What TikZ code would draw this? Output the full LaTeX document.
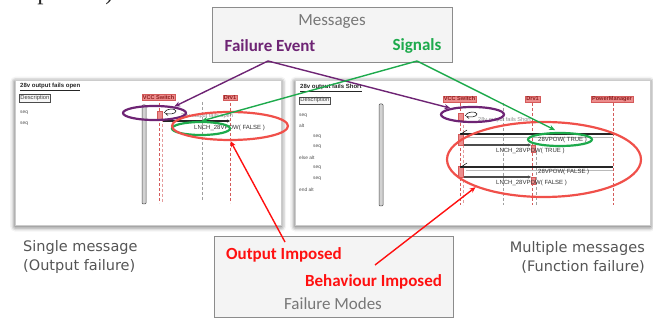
\documentclass[tikz,border=0pt]{standalone}
\usepackage{fontspec}
\setmainfont{Carlito}
\newfontfamily\shotfont{Liberation Sans}
\newfontfamily\capfont{DejaVu Sans}
\newfontfamily\pagefont{Liberation Serif}
\usetikzlibrary{shapes.geometric,arrows.meta,shadows,shadows.blur,calc}

\definecolor{fepurple}{HTML}{6E2474}
\definecolor{sigreen}{HTML}{1DAA4C}
\definecolor{fmred}{HTML}{FF1010}
\definecolor{ellred}{HTML}{F0504A}
\definecolor{boxgray}{HTML}{F4F4F4}
\definecolor{boxline}{HTML}{8C8C8C}
\definecolor{labgray}{HTML}{777777}
\definecolor{capgray}{HTML}{555555}
\definecolor{hdrfill}{HTML}{EC8C8C}
\definecolor{hdrtext}{HTML}{8E1F1F}
\definecolor{lifered}{HTML}{D45A5A}

\tikzset{
  panel/.style={draw=gray!40, fill=white, inner sep=0, anchor=north west,
    blur shadow={shadow blur radius=5pt, shadow xshift=0pt, shadow yshift=-1.5pt, shadow opacity=70}},
  infobox/.style={draw=boxline, line width=0.7pt, fill=boxgray, inner sep=0, anchor=north west},
  bigbold/.style={font=\bfseries\fontsize{17}{20}\selectfont, inner sep=0},
  bigplain/.style={font=\fontsize{17}{20}\selectfont, text=labgray, inner sep=0},
  caption/.style={font=\capfont\fontsize{14.5}{19}\selectfont, text=capgray, inner sep=0},
  hdr/.style={fill=hdrfill, draw=lifered, line width=0.3pt, inner xsep=1pt, inner ysep=0.8pt,
    font=\shotfont\bfseries\fontsize{5.6}{6}\selectfont, text=hdrtext,
    drop shadow={shadow xshift=0.8pt, shadow yshift=-0.8pt, opacity=0.35}},
  title/.style={font=\shotfont\bfseries\fontsize{6}{7}\selectfont, text=black!85, inner sep=0, anchor=west},
  descr/.style={draw=gray!60!black, line width=0.4pt, fill=gray!6, font=\shotfont\fontsize{5.8}{6}\selectfont,
    text=black!75, inner xsep=1.2pt, inner ysep=1pt, anchor=west},
  listtext/.style={font=\shotfont\fontsize{4.8}{5}\selectfont, text=black!70, inner sep=0, anchor=west},
  msgtext/.style={font=\shotfont\fontsize{6}{7}\selectfont, text=black!80, inner sep=0, anchor=west},
  faint/.style={font=\shotfont\fontsize{5.6}{6}\selectfont, text=black!45, inner sep=0, anchor=west},
  scroll/.style={fill=gray!35, draw=gray!60!black, line width=0.5pt, rounded corners=1pt},
  lifeline/.style={draw=lifered, line width=0.6pt, dash pattern=on 3pt off 2pt},
  lifelight/.style={draw=lifered!60, line width=0.5pt, dash pattern=on 3pt off 2pt},
  gridline/.style={draw=gray!75, line width=0.6pt, dash pattern=on 3pt off 2pt},
  act/.style={fill=hdrfill, draw=lifered, line width=0.4pt},
  msgline/.style={draw=black!85, line width=1.1pt},
  msgshade/.style={draw=gray!55, line width=0.6pt},
  ring/.style={ellipse, draw, line width=2.2pt, inner sep=0},
  link/.style={line width=1.4pt, -{Stealth[length=6pt,width=5pt]}},
  selfcall/.pic={
    \draw[black, line width=0.5pt, fill=white]
      (0,0) .. controls (2,-5) and (11,-5) .. (12,-2) .. controls (12,1) and (5,1.5) .. (1.5,0.5);
    \draw[black, line width=0.5pt] (1.5,0.5) -- (4,2.5);
  }
}

\begin{document}
\begin{tikzpicture}[x=1pt, y=-1pt]
\useasboundingbox (0,0) rectangle (653,320);
\clip (0,0) rectangle (653,320);

% descenders of the running text line above the figure
\node[font=\pagefont\fontsize{25}{25}\selectfont, anchor=base west, inner sep=0, text=black!85] (pagetail) at (-6,-0.5) {component).};

% ---------------- left screen: single message ----------------
\node[panel, minimum width=266pt, minimum height=145pt] (lpanel) at (15,80) {};
\node[title] (ltitle) at (20,87) {\underline{28v output fails open}};
\node[descr] (ldesc) at (19,98) {Description};
\node[listtext] (lseqa) at (20,113) {seq};
\node[listtext] (lseqb) at (20,124) {seq};
\draw[scroll] (142,105) rectangle (146,204);

\draw[lifeline] (159,103) -- (159,203);
\draw[lifelight] (162.5,119) -- (162.5,203);
\draw[gridline] (202,102) -- (202,200);
\draw[lifeline] (230,103) -- (230,203);
\node[hdr] (lvcc) at (158.5,97.5) {VCC Switch};
\node[hdr] (ldrv) at (230,97.5) {Drv1};

\draw[act] (157,111) rectangle (162.5,119);
\pic at (164,113) {selfcall};
\node[faint] (lself) at (181,116.5) {28v output fails open};
\draw[msgline, -{Stealth[length=3pt,width=3pt]}] (162.5,121) -- (230,121);
\node[msgtext] (lmsg) at (194,127.5) {LNCH\_28VPOW( FALSE )};

% ---------------- right screen: multiple messages ----------------
\node[panel, minimum width=355pt, minimum height=145pt] (rpanel) at (295,80) {};
\node[title] (rtitle) at (300,88) {\underline{28v output fails Short}};
\node[descr] (rdesc) at (299,100.5) {Description};
\node[listtext] (rla) at (299,116) {seq};
\node[listtext] (rlb) at (299,126) {alt};
\node[listtext] (rlc) at (313,137) {seq};
\node[listtext] (rld) at (313,147) {seq};
\node[listtext] (rle) at (299,158) {else alt};
\node[listtext] (rlf) at (313,168) {seq};
\node[listtext] (rlg) at (313,179) {seq};
\node[listtext] (rlh) at (299,190) {end alt};
\draw[scroll] (379,104) rectangle (383,206);

\draw[lifeline] (460,103) -- (460,205);
\draw[lifelight] (463.5,120) -- (463.5,205);
\draw[gridline] (503,103) -- (503,205);
\draw[lifeline] (532,103) -- (532,205);
\draw[gridline] (536,152) -- (536,205);
\draw[lifeline] (613,103) -- (613,205);
\node[hdr] (rvcc) at (459.5,99) {VCC Switch};
\node[hdr] (rdrv) at (532.5,99) {Drv1};
\node[hdr] (rpm) at (612,99) {PowerManager};

\draw[act] (458,113) rectangle (463.5,120);
\draw[act] (458,134) rectangle (463.5,145);
\draw[act] (458,166) rectangle (463.5,177);
\draw[act] (531,145) rectangle (535.5,152);
\draw[act] (531,177) rectangle (535.5,184);
\pic at (465,116) {selfcall};
\node[faint] (rself) at (478,120.5) {28v output fails Short};

% PowerManager -> VCC Switch, VCC Switch -> Drv1
\draw[msgshade] (466,137) -- (613,137);
\draw[msgline] (613,134) -- (460,134);
\draw[black, line width=0.5pt] (461,134) -- (467,130);
\node[msgtext] (rm1) at (538,139.5) {28VPOW( TRUE )};
\draw[msgline, draw=black!70, -{Stealth[length=3pt,width=3pt]}] (463.5,145) -- (531,145);
\node[msgtext] (rm2) at (496,150.5) {LNCH\_28VPOW( TRUE )};

\draw[msgshade] (466,170) -- (613,170);
\draw[msgline] (613,167) -- (460,167);
\draw[black, line width=0.5pt] (461,167) -- (467,163);
\node[msgtext] (rm3) at (538,171.5) {28VPOW( FALSE )};
\draw[msgline, draw=black!70, -{Stealth[length=3pt,width=3pt]}] (463.5,177) -- (531,177);
\node[msgtext] (rm4) at (496,182.5) {LNCH\_28VPOW( FALSE )};

% ---------------- highlight rings ----------------
\node[ring, draw=fepurple, minimum width=63pt, minimum height=14pt] (lpurple) at (154.5,113) {};
\node[ring, draw=sigreen, minimum width=58pt, minimum height=13pt] (lgreen) at (201,128.5) {};
\node[ring, draw=ellred, minimum width=116pt, minimum height=28pt] (lred) at (230,126) {};
\node[ring, draw=fepurple, minimum width=63pt, minimum height=15pt] (rpurple) at (472.5,114.5) {};
\node[ring, draw=sigreen, minimum width=64pt, minimum height=13pt] (rgreen) at (560,139.5) {};
\node[ring, draw=ellred, minimum width=194pt, minimum height=75pt] (rred) at (544,159.5) {};

% ---------------- message kinds ----------------
\node[infobox, minimum width=240pt, minimum height=55pt] (msgbox) at (212,7) {};
\node[bigplain] (msgtitle) at (332,22) {Messages};
\node[bigbold, text=fepurple] (fe) at (270,46) {Failure Event};
\node[bigbold, text=sigreen] (sig) at (417,46) {Signals};
\coordinate (fetip) at (268,61);
\coordinate (sigtip) at (417,61);

% ---------------- failure modes ----------------
\node[infobox, minimum width=239pt, minimum height=81pt] (fmbox) at (214,236) {};
\node[bigbold, text=fmred] (oi) at (284,255) {Output Imposed};
\node[bigbold, text=fmred] (bi) at (373.5,282) {Behaviour Imposed};
\node[bigplain] (fmtitle) at (333,304) {Failure Modes};
\coordinate (oitail) at (285,242);
\coordinate (bitail) at (375,265);

% ---------------- captions ----------------
\node[caption, align=left, anchor=west] (lcap) at (23,257.5) {Single message\\(Output failure)};
\node[caption, align=right, anchor=east] (rcap) at (645,257.5) {Multiple messages\\(Function failure)};

% ---------------- connectors ----------------
\draw[link, fepurple] (fetip) -- (lpurple.18);
\draw[link, fepurple] (fetip) -- (rpurple.164);
\draw[link, sigreen] (sigtip) -- (lgreen.85);
\draw[link, sigreen, shorten >=4pt] (sigtip) -- (rgreen.100);
\draw[link, fmred] (oitail) -- (lred.272);
\draw[link, fmred] (bitail) -- (rred.202);
\end{tikzpicture}
\end{document}
